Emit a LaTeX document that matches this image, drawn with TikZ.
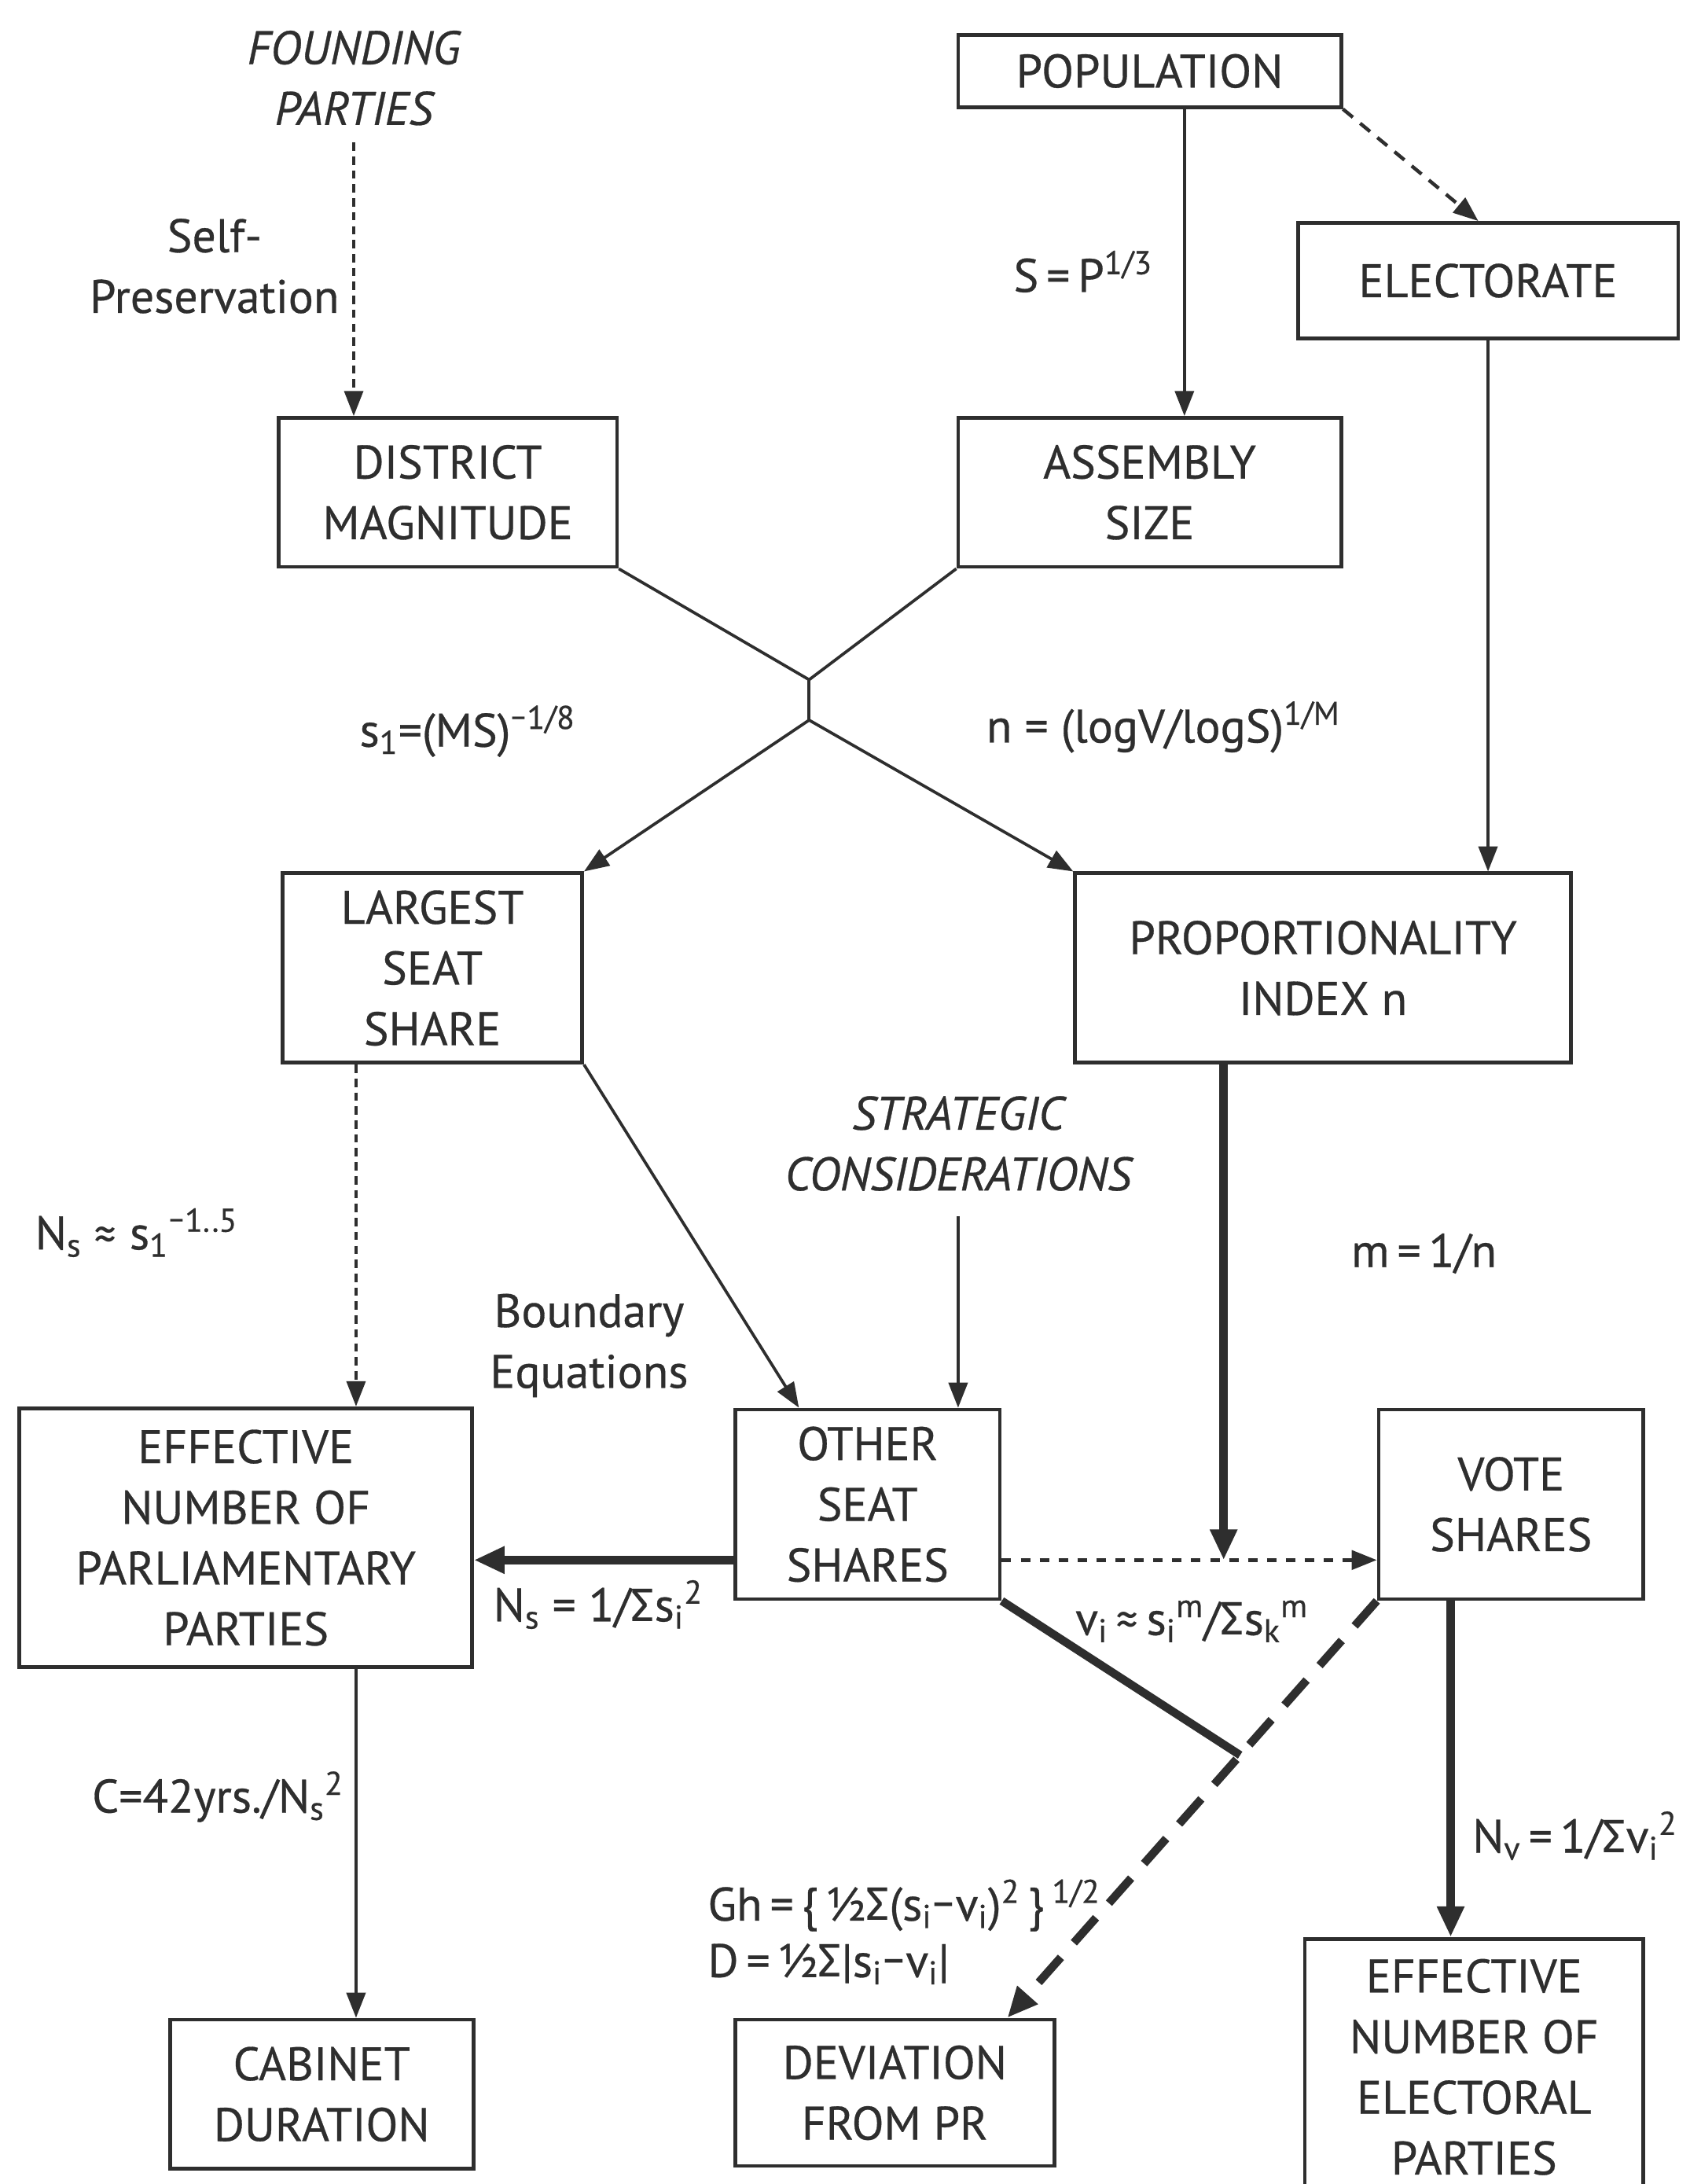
\documentclass[tikz,border=0pt]{standalone}
\usepackage{fontspec}
\setmainfont{PT Sans}[FakeBold=0.5]
\newfontfamily\symf{Fira Sans}
\usetikzlibrary{arrows.meta,calc}
\definecolor{ink}{HTML}{2E2E2E}
\newcommand{\mylbl}{\fontsize{24}{31}\selectfont}
\newcommand{\SG}{{\symf Σ}}
\newcommand{\MN}{{\symf −}}
\newcommand{\AP}{{\symf ≈}}
\newcommand{\sbsp}[2]{\textsubscript{#1}\textsuperscript{#2}}
\tikzset{
  box/.style={draw=ink, line width=1.9pt, inner sep=0pt, align=center, text=ink, font=\mylbl, fill=white},
  lab/.style={text=ink, inner sep=0pt, font=\mylbl, align=center},
  ilab/.style={lab, font=\mylbl\itshape},
  tip/.style={-{Triangle[length=4.5mm,width=3.4mm]}},
  bigtip/.style={-{Triangle[length=5.5mm,width=4.6mm]}},
  conn/.style={draw=ink, line width=1.5pt},
  thickconn/.style={draw=ink, line width=4.2pt},
  finedash/.style={conn, line width=1.3pt, dash pattern=on 1.5mm off 1mm},
  middash/.style={conn, line width=1.8pt, dash pattern=on 2.3mm off 1.7mm},
  dotconn/.style={conn, line width=1.9pt, dash pattern=on 1.7mm off 1.7mm},
  bigdash/.style={draw=ink, line width=4.2pt, dash pattern=on 6mm off 3.5mm}
}
\begin{document}
\begin{tikzpicture}[x=0.25mm, y=-0.25mm]
\useasboundingbox (0,0) rectangle (1213,1568);
\fill[white] (0,0) rectangle (1213,1568);
\clip (0,0) rectangle (1213,1568);

% boxes
\node[box, minimum width=68.75mm, minimum height=13mm] (pop) at (825.5,51) {POPULATION};
\node[box, minimum width=68.25mm, minimum height=20.75mm] (elect) at (1068.5,201.5) {ELECTORATE};
\node[box, minimum width=60.75mm, minimum height=26.75mm] (dist) at (321.5,353.5) {DISTRICT\\MAGNITUDE};
\node[box, minimum width=68.75mm, minimum height=26.75mm] (assem) at (825.5,353.5) {ASSEMBLY\\SIZE};
\node[box, minimum width=53.75mm, minimum height=34mm] (large) at (310.5,695) {LARGEST\\SEAT\\SHARE};
\node[box, minimum width=89mm, minimum height=34mm] (prop) at (950,695) {PROPORTIONALITY\\INDEX n};
\node[box, minimum width=81.25mm, minimum height=46.5mm] (effp) at (176.5,1104) {EFFECTIVE\\NUMBER OF\\PARLIAMENTARY\\PARTIES};
\node[box, minimum width=47.5mm, minimum height=34mm] (other) at (623,1080) {OTHER\\SEAT\\SHARES};
\node[box, minimum width=47.5mm, minimum height=34mm] (vote) at (1085,1080) {VOTE\\SHARES};
\node[box, minimum width=54.5mm, minimum height=26.75mm] (cab) at (231,1503.5) {CABINET\\DURATION};
\node[box, minimum width=57.25mm, minimum height=26.25mm] (dev) at (642.5,1502.5) {DEVIATION\\FROM PR};
\node[box, minimum width=60.75mm, minimum height=46mm] (effe) at (1058.5,1484) {EFFECTIVE\\NUMBER OF\\ELECTORAL\\PARTIES};

% free texts
\node[ilab] (fp) at (254,56) {FOUNDING\\PARTIES};
\node[lab] (selfp) at (154,191) {Self-\\Preservation};
\node[ilab] (strat) at (688,821) {STRATEGIC\\CONSIDERATIONS};
\node[lab] (bound) at (423,966) {Boundary\\Equations};

% formula labels
\node[lab, anchor=east] (spl) at (828,195) {S\,=\,P\textsuperscript{1/3}};
\node[lab, anchor=west] (s1l) at (258,525) {s\textsubscript{1}=(MS)\textsuperscript{\MN1/8}};
\node[lab, anchor=west] (nl) at (708,522) {n = (logV/logS)\textsuperscript{1/M}};
\node[lab, anchor=west] (nsap) at (25,885) {N\textsubscript{s} \AP{} s\textsubscript{1}\textsuperscript{\MN1..5}};
\node[lab, anchor=west] (ml) at (970,900) {m\,=\,1/n};
\node[lab, anchor=west] (nsl) at (354,1152) {N\textsubscript{s} = 1/\SG s\sbsp{i}{2}};
\node[lab, anchor=west] (vil) at (772,1164) {v\textsubscript{i}\,\AP\,s\sbsp{i}{m}/\SG s\sbsp{k}{m}};
\node[lab, anchor=east] (cl) at (247,1290) {C=42yrs./N\sbsp{s}{2}};
\node[lab, anchor=west] (ghl) at (508,1368) {Gh\,=\,\{\,½\SG(s\textsubscript{i}\MN v\textsubscript{i})\textsuperscript{2}\,\}\,\textsuperscript{1/2}};
\node[lab, anchor=west] (dl) at (508,1410) {D\,=\,½\SG|s\textsubscript{i}\MN v\textsubscript{i}|};
\node[lab, anchor=west] (nvl) at (1057,1318) {N\textsubscript{v}\,=\,1/\SG v\sbsp{i}{2}};

% helper coordinates
\coordinate (j1) at (581,488);
\coordinate (j2) at (581,517);
\coordinate (a1) at ($(pop.south)+(25,0)$);
\coordinate (a2) at ($(large.south west)+(54,0)$);
\coordinate (a3) at ($(prop.south west)+(108,0)$);
\coordinate (a4) at ($(other.east)+(0,40)$);
\coordinate (a4l) at ($(other.west)+(0,40)$);
\coordinate (a5) at ($(vote.south west)+(53,0)$);
\coordinate (a6) at ($(effp.south west)+(243,0)$);
\coordinate (devtip) at ($(dev.north east)+(-35,0)$);
\coordinate (c1) at ($(vote.south west)!0.37!(devtip)$);
\coordinate (otip) at ($(other.north west)+(47,0)$);
\coordinate (etip) at ($(elect.north)+(-7,0)$);

% connectors
\draw[finedash, tip] ($(fp.south)+(0,12)$) -- (fp.south |- dist.north);
\draw[conn, tip] (a1) -- (a1 |- assem.north);
\draw[middash, tip] (pop.south east) -- (etip);
\draw[conn] (dist.south east) -- (j1) -- (assem.south west);
\draw[conn] (j1) -- (j2);
\draw[conn, tip] (j2) -- (large.north east);
\draw[conn, tip] (j2) -- (prop.north west);
\draw[conn, tip] (elect.south) -- (elect.south |- prop.north);
\draw[finedash, tip] (a2) -- (a2 |- effp.north);
\draw[conn, tip] (large.south east) -- (otip);
\draw[conn, tip] ($(strat.south)+(0,18)$) -- (strat.south |- other.north);
\draw[thickconn, bigtip] (a3) -- (a3 |- a4);
\draw[dotconn, tip] (a4) -- (a4 -| vote.west);
\draw[thickconn, bigtip] (a4l) -- (a4l -| effp.east);
\draw[thickconn] (other.south east) -- (c1);
\draw[bigdash, bigtip] (vote.south west) -- (devtip);
\draw[thickconn, bigtip] (a5) -- (a5 |- effe.north);
\draw[conn, tip] (a6) -- (a6 |- cab.north);
\end{tikzpicture}
\end{document}
